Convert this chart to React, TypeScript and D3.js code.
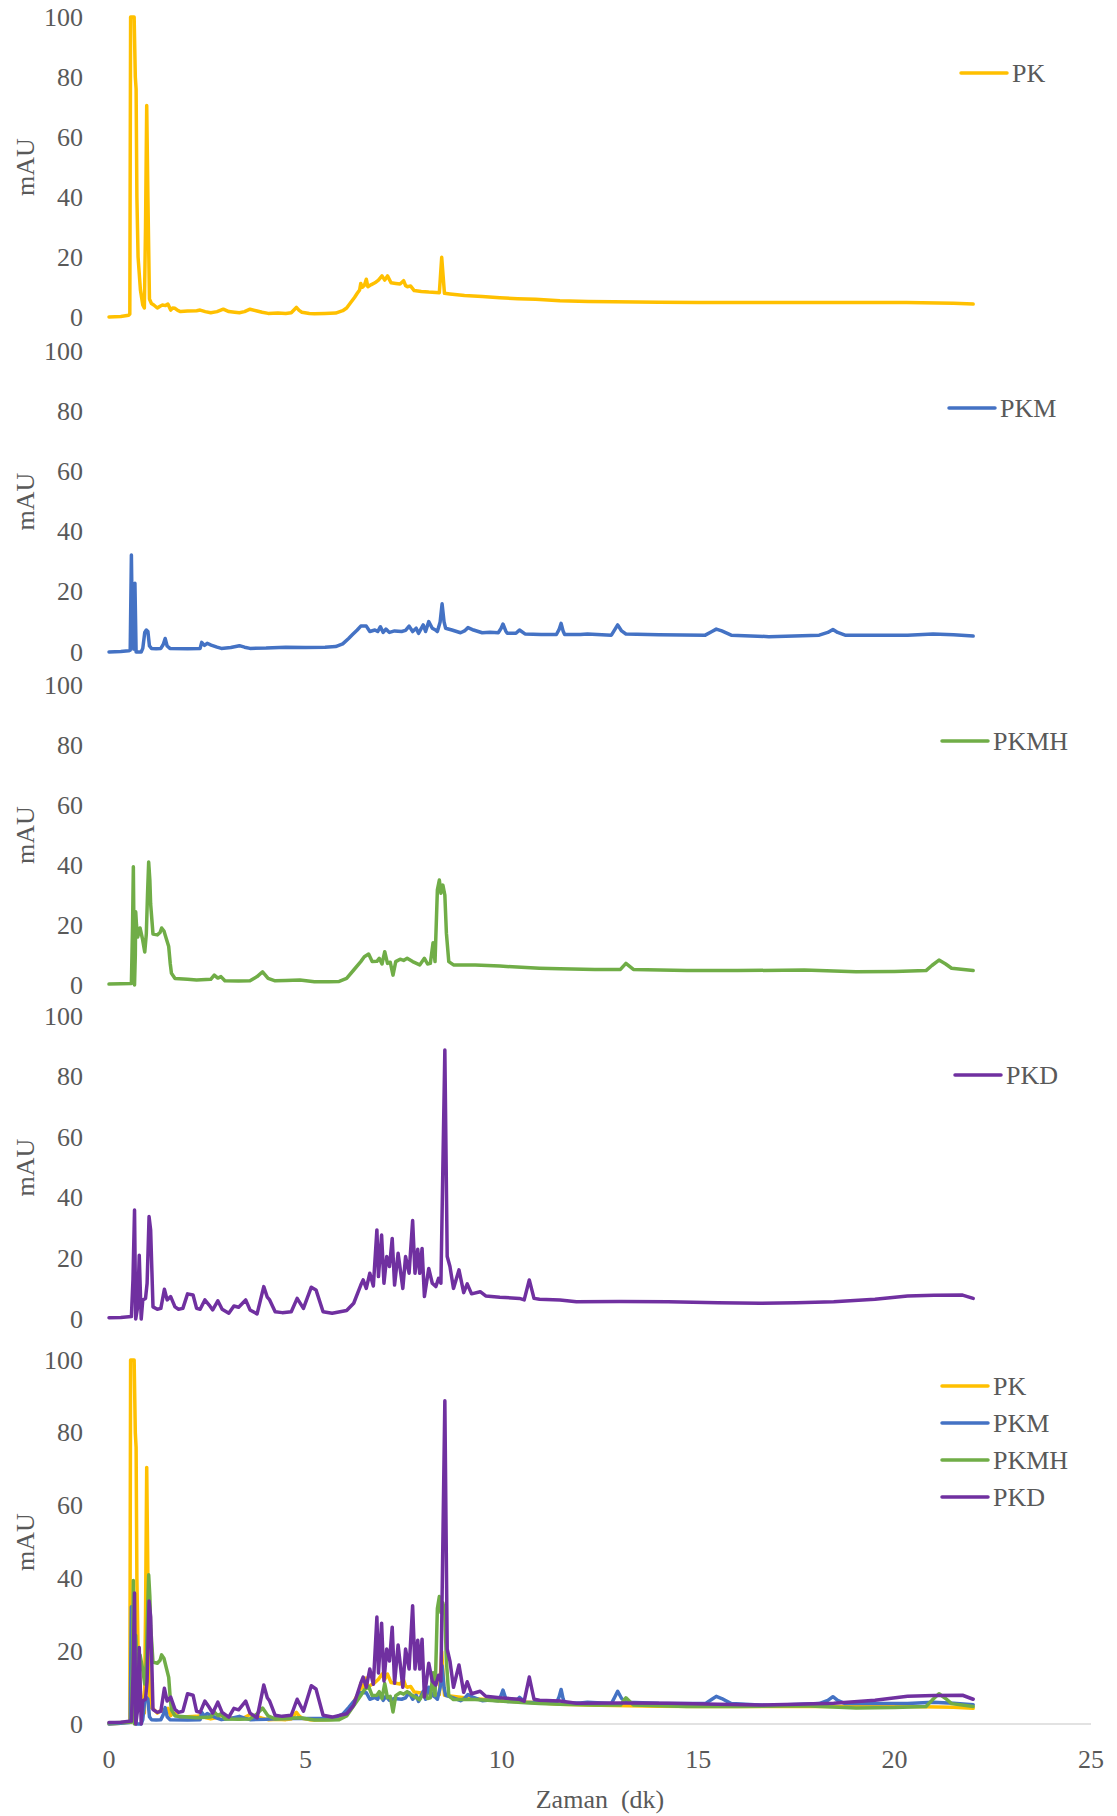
import React from 'react';
import * as d3 from 'd3';

type Pt = [number, number];

const SERIES_NAMES = ['PK', 'PKM', 'PKMH', 'PKD'];
const SERIES_COLORS = ['#FFC000', '#4472C4', '#70AD47', '#7030A0'];
const Y_TICKS = [0, 20, 40, 60, 80, 100];
const X_TICKS = [0, 5, 10, 15, 20, 25];
const X_TITLE = 'Zaman  (dk)';
const Y_TITLE = 'mAU';

const PK: Pt[] = [
  [0, 0], [0.3, 0.2], [0.5, 0.6], [0.53, 1], [0.55, 120], [0.6, 120], [0.64, 110], [0.67, 80], [0.69, 76], [0.71, 40], [0.74, 20],
  [0.8, 9], [0.86, 4], [0.9, 3], [0.93, 30], [0.96, 70.5], [0.99, 40], [1.03, 6], [1.08, 4.5], [1.14, 4], [1.23, 3],
  [1.3, 3.6], [1.36, 4], [1.44, 3.8], [1.5, 4.3], [1.57, 2.3], [1.62, 3], [1.68, 2.9], [1.75, 2.2], [1.82, 1.8], [2.0, 2],
  [2.23, 2.1], [2.32, 2.3], [2.45, 1.8], [2.59, 1.4], [2.75, 1.8], [2.91, 2.6], [3.05, 1.8], [3.2, 1.6], [3.32, 1.4],
  [3.45, 1.8], [3.59, 2.6], [3.77, 2], [3.9, 1.6], [4.05, 1.2], [4.3, 1.3], [4.5, 1.2], [4.64, 1.4], [4.72, 2.5],
  [4.77, 3.2], [4.84, 2.2], [4.91, 1.6], [5.1, 1.2], [5.23, 1.1], [5.5, 1.2], [5.77, 1.3], [5.95, 2.1], [6.05, 3],
  [6.14, 4.6], [6.25, 6.5], [6.32, 7.9], [6.38, 9], [6.41, 11.2], [6.45, 9.9], [6.5, 10.5], [6.55, 12.6], [6.59, 10.1],
  [6.68, 10.8], [6.77, 11.4], [6.86, 12.3], [6.95, 13.7], [7.02, 12.3], [7.09, 13.7], [7.18, 11.4], [7.3, 11.2],
  [7.41, 11], [7.5, 12.1], [7.55, 10.5], [7.59, 10.1], [7.68, 10.3], [7.77, 8.8], [7.95, 8.5], [8.14, 8.3], [8.41, 8.1],
  [8.47, 19.9], [8.54, 7.9], [8.68, 7.7], [9.05, 7.2], [9.5, 6.8], [9.95, 6.4], [10.4, 6.1], [10.86, 5.9], [11.48, 5.4],
  [12.2, 5.2], [12.84, 5.1], [14, 4.9], [15, 4.8], [16.58, 4.8], [18, 4.8], [19, 4.8], [20.3, 4.8], [21.5, 4.6], [22, 4.3],
];

const PKM: Pt[] = [
  [0, 0], [0.3, 0.2], [0.5, 0.4], [0.54, 0.6], [0.57, 32.2], [0.6, 2], [0.63, 1], [0.66, 22.8], [0.69, 0], [0.75, -0.3],
  [0.82, -0.3], [0.86, 1.2], [0.91, 6.5], [0.95, 7.3], [0.99, 6.8], [1.03, 2], [1.08, 1.2], [1.2, 1.1], [1.32, 1.2],
  [1.38, 2.5], [1.43, 4.5], [1.48, 2], [1.55, 1.2], [2.0, 1.1], [2.32, 1.2], [2.36, 3.2], [2.43, 2.2], [2.5, 2.9],
  [2.6, 2.3], [2.75, 1.6], [2.86, 1.2], [3.1, 1.5], [3.32, 2.1], [3.45, 1.6], [3.59, 1.2], [4.0, 1.3], [4.5, 1.6],
  [5.0, 1.5], [5.5, 1.6], [5.77, 1.8], [5.95, 2.7], [6.1, 4.5], [6.2, 5.8], [6.32, 7.3], [6.41, 8.6], [6.55, 8.6],
  [6.64, 6.8], [6.77, 7.3], [6.84, 6.8], [6.91, 8.4], [6.98, 6.5], [7.05, 7.6], [7.14, 6.5], [7.27, 7], [7.45, 6.8],
  [7.55, 7.2], [7.64, 8.6], [7.73, 6.8], [7.82, 7.9], [7.88, 6.2], [8.0, 9], [8.06, 6.8], [8.14, 10.1], [8.23, 7.9],
  [8.3, 7.4], [8.36, 6.8], [8.43, 10], [8.48, 16], [8.53, 10], [8.57, 7.9], [8.73, 7.3], [8.95, 6.4], [9.05, 7],
  [9.14, 8.1], [9.28, 7.3], [9.5, 6.4], [9.7, 6.6], [9.91, 6.4], [9.98, 7.8], [10.03, 9.3], [10.1, 7], [10.14, 6.2],
  [10.36, 6.2], [10.45, 7.3], [10.59, 6], [11.0, 5.8], [11.39, 5.8], [11.46, 7.5], [11.51, 9.5], [11.56, 7], [11.6, 5.8],
  [12.0, 5.8], [12.18, 6], [12.79, 5.6], [12.88, 7.5], [12.95, 9], [13.05, 7], [13.16, 6], [14, 5.7], [15.18, 5.6],
  [15.35, 6.8], [15.46, 7.6], [15.6, 7], [15.84, 5.6], [16.8, 5.1], [18.08, 5.6], [18.3, 6.5], [18.43, 7.5], [18.55, 6.5],
  [18.74, 5.6], [19.5, 5.6], [20.33, 5.6], [20.98, 6], [21.5, 5.7], [22, 5.3],
];

const PKMH: Pt[] = [
  [0, 0.3], [0.3, 0.4], [0.57, 0.5], [0.6, 20], [0.62, 39.4], [0.64, 10], [0.65, 0], [0.67, 10], [0.68, 24.4], [0.7, 20],
  [0.73, 16], [0.79, 19], [0.85, 15.5], [0.91, 11], [0.95, 17], [0.98, 30], [1.01, 41], [1.04, 35], [1.06, 27],
  [1.12, 17], [1.23, 16.7], [1.3, 17.5], [1.34, 19], [1.4, 18], [1.43, 16.7], [1.52, 12.8], [1.56, 7], [1.59, 3.9],
  [1.68, 2.2], [2.0, 1.9], [2.23, 1.7], [2.59, 1.9], [2.68, 3.3], [2.77, 2.3], [2.85, 2.8], [2.95, 1.4], [3.3, 1.3],
  [3.59, 1.4], [3.77, 2.8], [3.91, 4.4], [4.05, 2.2], [4.23, 1.4], [4.5, 1.5], [4.86, 1.7], [5.23, 1.1], [5.6, 1.1],
  [5.86, 1.2], [6.05, 2.2], [6.23, 5], [6.41, 7.8], [6.5, 9.4], [6.61, 10.3], [6.7, 7.8], [6.82, 7.9], [6.88, 8.9],
  [6.95, 7], [7.02, 11.1], [7.09, 7.2], [7.16, 7.6], [7.23, 3.3], [7.3, 7.8], [7.41, 8.6], [7.5, 8.2], [7.59, 8.9],
  [7.73, 7.8], [7.91, 6.7], [8.03, 8.9], [8.11, 7], [8.18, 7.2], [8.25, 14.1], [8.3, 7.8], [8.36, 31.7], [8.41, 35],
  [8.45, 30.6], [8.5, 33.3], [8.55, 30], [8.59, 17.2], [8.65, 7.8], [8.77, 6.7], [9.32, 6.7], [9.95, 6.3], [10.5, 5.9],
  [10.96, 5.6], [11.48, 5.4], [12.37, 5.2], [13.02, 5.2], [13.16, 7.2], [13.35, 5.2], [14.71, 4.8], [16, 4.8], [17.7, 5],
  [19.02, 4.4], [20.0, 4.5], [20.8, 4.8], [20.95, 6.5], [21.13, 8.3], [21.3, 7], [21.45, 5.6], [22, 4.8],
];

const PKD: Pt[] = [
  [0, 0.4], [0.3, 0.5], [0.57, 0.8], [0.61, 12.9], [0.65, 36], [0.68, 0], [0.73, 4], [0.77, 21], [0.82, 0], [0.86, 6.3],
  [0.93, 6.8], [0.97, 11.8], [1.02, 33.8], [1.06, 29.4], [1.12, 4], [1.23, 3.2], [1.32, 3.5], [1.41, 9.8], [1.48, 6.3],
  [1.57, 7.4], [1.68, 4], [1.77, 3.2], [1.88, 3.5], [2.0, 8.3], [2.14, 7.9], [2.23, 3.5], [2.32, 3.2], [2.44, 6.3],
  [2.55, 4.6], [2.64, 3], [2.77, 6], [2.88, 3.2], [3.05, 1.9], [3.18, 4.3], [3.3, 3.9], [3.48, 6.3], [3.59, 3],
  [3.77, 1.7], [3.94, 10.7], [4.03, 7.2], [4.09, 6.3], [4.23, 2.4], [4.41, 2.1], [4.64, 2.4], [4.79, 6.8], [4.95, 3.5],
  [5.15, 10.5], [5.27, 9.6], [5.45, 2.4], [5.68, 1.9], [6.05, 2.8], [6.23, 5.2], [6.41, 11.2], [6.47, 12.9], [6.55, 10.1],
  [6.64, 15.1], [6.73, 10.9], [6.82, 29.4], [6.86, 14], [6.94, 27.7], [7.0, 11.8], [7.07, 20.6], [7.14, 17.3],
  [7.21, 26.6], [7.27, 11.2], [7.36, 21.7], [7.48, 10.1], [7.55, 20.6], [7.64, 15.1], [7.73, 32.5], [7.79, 15.1],
  [7.86, 23], [7.91, 15.1], [7.97, 23.3], [8.03, 7.4], [8.14, 16.7], [8.23, 11.8], [8.32, 10.7], [8.39, 13.4],
  [8.45, 11.8], [8.55, 88.8], [8.61, 20.6], [8.68, 17.3], [8.77, 10.1], [8.91, 16.2], [9.03, 8.7], [9.12, 11.6],
  [9.23, 8.3], [9.45, 9], [9.59, 7.6], [9.95, 7.2], [10.45, 6.8], [10.57, 6.3], [10.7, 12.9], [10.82, 6.8], [10.96, 6.5],
  [11.48, 6.3], [11.9, 5.7], [13, 5.8], [14.24, 5.7], [15.5, 5.4], [16.58, 5.2], [17.5, 5.4], [18.45, 5.7], [19.5, 6.5],
  [20.33, 7.6], [21, 7.8], [21.73, 7.9], [22, 6.8],
];

const SERIES_DATA: Pt[][] = [PK, PKM, PKMH, PKD];

// layout
const W = 1117;
const H = 1816;
const PLOT_LEFT = 109;
const PLOT_RIGHT = 1091;
const FONT = '"Liberation Serif", "Times New Roman", serif';
const TEXT_COLOR = '#595959';
const STROKE = 3.5;

interface PanelSpec {
  top: number;
  bottom: number;
  series: number[];
  legendX: number;
  legendY: number;
  showXAxis: boolean;
}

const PANELS: PanelSpec[] = [
  { top: 17, bottom: 317, series: [0], legendX: 961, legendY: 73, showXAxis: false },
  { top: 351, bottom: 652, series: [1], legendX: 949, legendY: 408, showXAxis: false },
  { top: 685, bottom: 985, series: [2], legendX: 942, legendY: 741, showXAxis: false },
  { top: 1016, bottom: 1319, series: [3], legendX: 955, legendY: 1075, showXAxis: false },
  { top: 1360, bottom: 1724, series: [0, 1, 2, 3], legendX: 942, legendY: 1386, showXAxis: true },
];

const xScale = d3.scaleLinear().domain([0, 25]).range([PLOT_LEFT, PLOT_RIGHT]);

function Panel({ spec }: { spec: PanelSpec }) {
  const y = d3.scaleLinear().domain([0, 100]).range([spec.bottom, spec.top]).clamp(true);
  const line = d3
    .line<Pt>()
    .x((d) => xScale(d[0]))
    .y((d) => y(d[1]));
  const mid = (spec.top + spec.bottom) / 2;
  return (
    <g>
      {spec.showXAxis && (
        <line x1={xScale(0)} x2={xScale(25)} y1={y(0)} y2={y(0)} stroke="#d9d9d9" strokeWidth={1.5} />
      )}
      {Y_TICKS.map((t) => (
        <text
          key={t}
          x={83}
          y={y(t)}
          textAnchor="end"
          dominantBaseline="central"
          fontFamily={FONT}
          fontSize={26}
          fill={TEXT_COLOR}
        >
          {t}
        </text>
      ))}
      <text
        transform={`translate(25,${mid}) rotate(-90)`}
        textAnchor="middle"
        dominantBaseline="central"
        fontFamily={FONT}
        fontSize={26}
        fill={TEXT_COLOR}
      >
        {Y_TITLE}
      </text>
      {spec.series.map((si) => (
        <path
          key={si}
          d={line(SERIES_DATA[si]) || ''}
          fill="none"
          stroke={SERIES_COLORS[si]}
          strokeWidth={STROKE}
          strokeLinejoin="round"
          strokeLinecap="round"
        />
      ))}
      {spec.series.map((si, i) => {
        const ly = spec.legendY + i * 37;
        return (
          <g key={'lg' + si}>
            <line
              x1={spec.legendX}
              x2={spec.legendX + 46}
              y1={ly}
              y2={ly}
              stroke={SERIES_COLORS[si]}
              strokeWidth={STROKE}
              strokeLinecap="round"
            />
            <text
              x={spec.legendX + 51}
              y={ly}
              dominantBaseline="central"
              fontFamily={FONT}
              fontSize={26}
              fill={TEXT_COLOR}
            >
              {SERIES_NAMES[si]}
            </text>
          </g>
        );
      })}
      {spec.showXAxis && (
        <g>
          {X_TICKS.map((t) => (
            <text
              key={t}
              x={xScale(t)}
              y={1759}
              textAnchor="middle"
              dominantBaseline="central"
              fontFamily={FONT}
              fontSize={26}
              fill={TEXT_COLOR}
            >
              {t}
            </text>
          ))}
          <text
            x={(PLOT_LEFT + PLOT_RIGHT) / 2}
            y={1799}
            textAnchor="middle"
            dominantBaseline="central"
            fontFamily={FONT}
            fontSize={26}
            fill={TEXT_COLOR}
            style={{ whiteSpace: 'pre' }}
          >
            {X_TITLE}
          </text>
        </g>
      )}
    </g>
  );
}

export default function App() {
  return (
    <svg
      width={W}
      height={H}
      viewBox={`0 0 ${W} ${H}`}
      style={{ position: 'absolute', left: 0, top: 0, background: '#ffffff' }}
    >
      <rect x={0} y={0} width={W} height={H} fill="#ffffff" />
      {PANELS.map((p, i) => (
        <Panel key={i} spec={p} />
      ))}
    </svg>
  );
}
